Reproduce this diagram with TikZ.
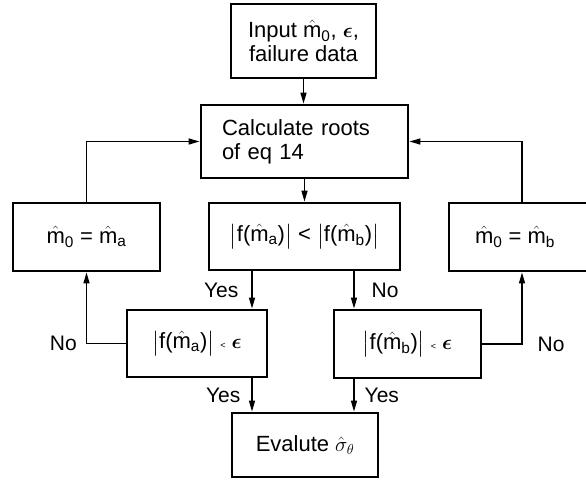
\documentclass[tikz,border=0pt]{standalone}
\usepackage{amsmath}
\usepackage{fontspec}
\setmainfont{Liberation Sans}
\usetikzlibrary{arrows.meta}
\newcommand{\mh}[1]{\hat{\text{m}}_{\text{#1}}}
\newcommand{\eps}{\boldsymbol{\epsilon}}
\begin{document}
\begin{tikzpicture}[x=1pt,y=-1pt,
  box/.style={draw, line width=2.8pt, align=center, inner sep=0pt,
    font=\fontsize{22}{24}\selectfont},
  conn/.style={line width=1.4pt, -{Triangle[length=11pt,width=6pt]}},
  lbl/.style={font=\fontsize{21}{22}\selectfont, inner sep=3pt}]
\useasboundingbox (0,0) rectangle (586,480);
\clip (0,0) rectangle (586,480);
\node[box, minimum width=145pt, minimum height=74pt] (inp) at (303.5,41)
  {Input $\mh{0}$, $\eps$,\\ failure data};
\node[box, minimum width=207pt, minimum height=73pt, align=left, text width=165pt] (calc) at (304.5,141.5)
  {Calculate roots\\ of eq 14};
\node[box, minimum width=191pt, minimum height=67pt] (cmp) at (304.5,236.5)
  {$\left|\text{f(}\mh{a}\text{)}\right|$ < $\left|\text{f(}\mh{b}\text{)}\right|$};
\node[box, minimum width=147pt, minimum height=68pt] (la) at (86.5,237)
  {$\mh{0}$ = $\mh{a}$};
\node[box, minimum width=146pt, minimum height=68pt] (rb) at (522,237)
  {\hspace*{-14pt}$\mh{0}$ = $\mh{b}$};
\node[box, minimum width=140pt, minimum height=67pt] (ea) at (197,343.5)
  {$\left|\text{f(}\mh{a}\text{)}\right|$ {\small<} $\eps$};
\node[box, minimum width=147pt, minimum height=68pt] (eb) at (407.5,344)
  {$\left|\text{f(}\mh{b}\text{)}\right|$ {\small<} $\eps$};
\node[box, minimum width=146pt, minimum height=64pt] (ev) at (305,445)
  {Evalute $\hat{\sigma}_\theta$};
\coordinate (xa) at (252,0);
\coordinate (xb) at (354,0);
\draw[conn] (inp.south) -- (inp.south |- calc.north);
\draw[conn] (calc.south) -- (calc.south |- cmp.north);
\draw[conn] (la.north) |- (calc.west);
\draw[conn] (rb.north) |- (calc.east);
\draw[conn] (cmp.south -| xa) -- (ea.north -| xa) node[lbl, midway, left, xshift=-10pt] {Yes};
\draw[conn] (cmp.south -| xb) -- (eb.north -| xb) node[lbl, midway, right, xshift=14pt] {No};
\draw[conn] (ea.south -| xa) -- (ev.north -| xa) node[lbl, midway, left, xshift=-8pt] {Yes};
\draw[conn] (eb.south -| xb) -- (ev.north -| xb) node[lbl, midway, right, xshift=7pt] {Yes};
\draw[conn] (ea.west) -| (la.south) node[lbl, pos=0.5, left, xshift=-6pt] {No};
\draw[conn] (eb.east) -| (rb.south) node[lbl, pos=0.5, right, xshift=12pt] {No};
\end{tikzpicture}
\end{document}
